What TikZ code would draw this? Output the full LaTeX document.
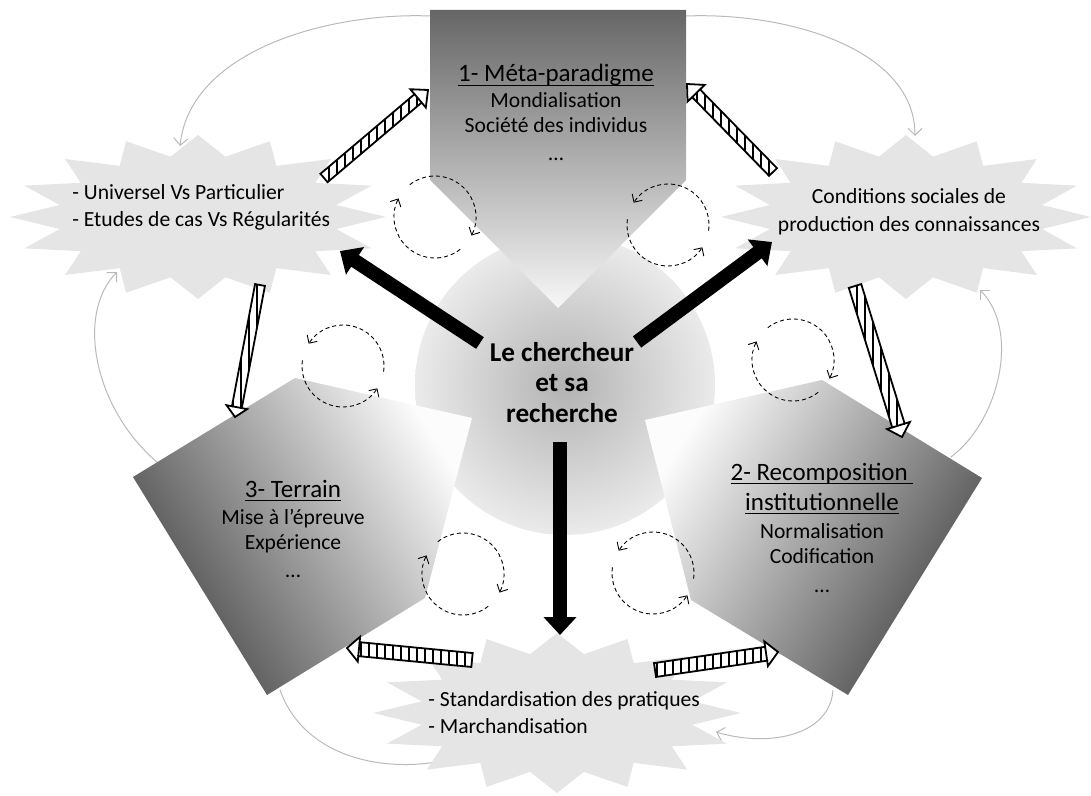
\documentclass[tikz,border=0pt]{standalone}
\usepackage{fontspec}
\setmainfont{Carlito}
\usetikzlibrary{arrows.meta,calc}
\newcommand\myul[1]{\setbox0\hbox{#1}\rlap{\rule[-2pt]{\wd0}{0.5pt}}\box0}
\tikzset{
  starfill/.style={fill=black!10},
  txt/.style={inner sep=0pt, anchor=base, font=\fontsize{10.8}{13}\selectfont},
  ttl/.style={inner sep=0pt, anchor=base, font=\fontsize{12.5}{15}\selectfont},
  ctr/.style={inner sep=0pt, anchor=base, font=\fontsize{13.6}{16}\selectfont\bfseries},
  bigarrow/.style={line width=7pt, -{Triangle[width=16pt,length=9pt]}},
  cyc/.style={draw=black!27, line width=0.5pt, -{Straight Barb[length=3.5pt,width=7pt]}},
  dcirc/.style={line width=0.45pt, dash pattern=on 2pt off 1.5pt, -{Straight Barb[length=3pt,width=6pt]}},
  stripe/.style={line width=1pt},
  hatchline/.style={draw=black, line width=0.9pt, line join=miter},
}
\newcommand\hatcharrow[5]{%
  \coordinate (hb) at ($(#2)!#5!(#1)$);
  \coordinate (tl) at ($(#1)!#3!90:(#2)$);
  \coordinate (tr) at ($(#1)!#3!-90:(#2)$);
  \coordinate (bl) at ($(hb)!#3!90:(#2)$);
  \coordinate (br) at ($(hb)!#3!-90:(#2)$);
  \coordinate (hl) at ($(hb)!#4!90:(#2)$);
  \coordinate (hr) at ($(hb)!#4!-90:(#2)$);
  \fill[white] (tl) -- (bl) -- (hl) -- (#2) -- (hr) -- (br) -- (tr) -- cycle;
  \begin{scope}
    \clip (tl) -- (bl) -- (br) -- (tr) -- cycle;
    \foreach \xx in {1,9,...,1091} \draw[stripe] (\xx,0) -- (\xx,796);
  \end{scope}
  \draw[hatchline] (tl) -- (bl) -- (hl) -- (#2) -- (hr) -- (br) -- (tr) -- cycle;
  \draw[hatchline] (bl) -- (br);
}
\newcommand\sealstar[4]{%
  \fill[starfill] ({#1+#3},{#2}) \foreach \k in {1,...,31}{ -- ({#1+#3*cos(\k*11.25)*ifthenelse(isodd(\k),0.75,1)},{#2+#4*sin(\k*11.25)*ifthenelse(isodd(\k),0.75,1)}) } -- cycle;}
\newcommand\cwcirc[1]{%
  \draw[dcirc] ($(#1)+(-52:20.5pt)$) arc[start angle=-52, end angle=-207, radius=20.5pt];
  \draw[dcirc] ($(#1)+(128:20.5pt)$) arc[start angle=128, end angle=-27, radius=20.5pt];}
\newcommand\ccwcirc[1]{%
  \draw[dcirc] ($(#1)+(-8:20.5pt)$) arc[start angle=-8, end angle=147, radius=20.5pt];
  \draw[dcirc] ($(#1)+(172:20.5pt)$) arc[start angle=172, end angle=327, radius=20.5pt];}
\begin{document}
\begin{tikzpicture}[x=0.5pt,y=-0.5pt]
\useasboundingbox (0,0) rectangle (1091,796);
% ---------- coordinates
\coordinate (g1a) at (430,16);  \coordinate (g1b) at (180,146);
\coordinate (g2a) at (686,16);  \coordinate (g2b) at (915,136);
\coordinate (g3a) at (158,463); \coordinate (g3b) at (117,272);
\coordinate (g4a) at (951,457); \coordinate (g4b) at (980,290);
\coordinate (g5a) at (280,690); \coordinate (g5b) at (455,758);
\coordinate (g6a) at (833,690); \coordinate (g6b) at (716,732);
% ---------- outer grey cycle arrows
\draw[cyc] (g1a) .. controls (330,12) and (190,50) .. (g1b);
\draw[cyc] (g2a) .. controls (790,12) and (915,50) .. (g2b);
\draw[cyc] (g3a) .. controls (95,410) and (75,315) .. (g3b);
\draw[cyc] (g4a) .. controls (1000,420) and (1020,330) .. (g4b);
\draw[cyc] (g5a) .. controls (305,760) and (390,775) .. (g5b);
\draw[cyc] (g6a) .. controls (830,735) and (770,748) .. (g6b);
% ---------- central disc
\shade[inner color=black!30, outer color=black!8] (565,385) circle[radius=75pt];
% ---------- stars
\sealstar{198}{217}{188}{82}
\sealstar{906}{217}{185}{82}
\sealstar{557}{713}{184}{80}
% ---------- pentagons
\shade[top color=black!60, bottom color=black!3] (430,10) -- (686,10) -- (686,180) -- (558,308) -- (430,180) -- cycle;
\shade[top color=black!1, bottom color=black!72, shading angle=-58] (295,378) -- (472,418) -- (425,598) -- (267,695) -- (133,477) -- cycle;
\shade[top color=black!1, bottom color=black!72, shading angle=58] (822,380) -- (645,420) -- (691,600) -- (848,695) -- (982,478) -- cycle;
% ---------- texts
\node[ttl] (m1) at (556,82) {\myul{1- Méta-paradigme}};
\node[txt] (m2) at (556,108) {Mondialisation};
\node[txt] (m3) at (556,133) {Société des individus};
\node[txt] (m4) at (556,161) {…};
\node[ctr] (c1) at (562,361) {Le chercheur};
\node[ctr] (c2) at (562,392) {et sa};
\node[ctr] (c3) at (562,422) {recherche};
\node[txt, anchor=base west] (l1) at (72,200) {- Universel Vs Particulier};
\node[txt, anchor=base west] (l2) at (72,227) {- Etudes de cas Vs Régularités};
\node[txt] (r1) at (909,204) {Conditions sociales de};
\node[txt] (r2) at (909,232) {production des connaissances};
\node[txt, anchor=base west] (b1) at (428,706) {- Standardisation des pratiques};
\node[txt, anchor=base west] (b2) at (428,733) {- Marchandisation};
\node[ttl] (t1) at (293,497) {\myul{3- Terrain}};
\node[txt] (t2) at (293,524) {Mise à l’épreuve};
\node[txt] (t3) at (293,549) {Expérience};
\node[txt] (t4) at (293,577) {…};
\node[ttl] (p1) at (822,480) {\myul{2- Recomposition\ }};
\node[ttl] (p2) at (822,510) {\myul{institutionnelle}};
\node[txt] (p3) at (822,538) {Normalisation};
\node[txt] (p4) at (822,563) {Codification};
\node[txt] (p5) at (822,592) {…};
% ---------- black arrows
\coordinate (a1s) at (480,343); \coordinate (a1e) at (340,251);
\coordinate (a2s) at (637,342); \coordinate (a2e) at (772,242);
\coordinate (a3s) at (560,442); \coordinate (a3e) at (560,635);
\draw[bigarrow] (a1s) -- (a1e);
\draw[bigarrow] (a2s) -- (a2e);
\draw[bigarrow] (a3s) -- (a3e);
% ---------- striped arrows
\coordinate (s1t) at (324,178); \coordinate (s1h) at (428,90);
\coordinate (s2t) at (773,172); \coordinate (s2h) at (687,84);
\coordinate (s3t) at (260,285); \coordinate (s3h) at (235,417);
\coordinate (s4t) at (855,286); \coordinate (s4h) at (902,437);
\coordinate (s5t) at (472,660); \coordinate (s5h) at (347,648);
\coordinate (s6t) at (655,670); \coordinate (s6h) at (778,652);
\hatcharrow{s1t}{s1h}{2.75pt}{6pt}{6.5pt}
\hatcharrow{s2t}{s2h}{2.75pt}{6pt}{6.5pt}
\hatcharrow{s3t}{s3h}{2.5pt}{5.25pt}{5pt}
\hatcharrow{s4t}{s4h}{3.25pt}{6pt}{6pt}
\hatcharrow{s5t}{s5h}{3.5pt}{6.25pt}{6pt}
\hatcharrow{s6t}{s6h}{3.5pt}{6.25pt}{6pt}
% ---------- dashed cycles
\coordinate (d1) at (435,217);
\coordinate (d2) at (668,225);
\coordinate (d3) at (343,366);
\coordinate (d4) at (793,360);
\coordinate (d5) at (463,574);
\coordinate (d6) at (653,573);
\cwcirc{d1}
\ccwcirc{d2}
\ccwcirc{d3}
\cwcirc{d4}
\cwcirc{d5}
\ccwcirc{d6}
\end{tikzpicture}
\end{document}
